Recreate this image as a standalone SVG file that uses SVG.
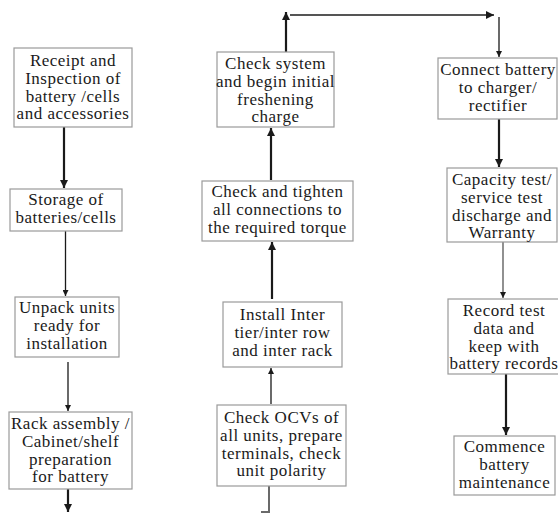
<svg xmlns="http://www.w3.org/2000/svg" width="558" height="513" viewBox="0 0 558 513">
<defs>
<style>
.box rect{fill:#fff;stroke:#9a9a9a;stroke-width:1.2}
.box text{font-family:"Liberation Serif","Times New Roman",serif;font-size:17px;letter-spacing:0.5px;fill:#1a1a1a;text-anchor:middle}
.c{fill:none;stroke:#1a1a1a}
.thick{stroke-width:2.2}
.thin{stroke-width:1.3}
.gray{stroke:#555}
</style>
<marker id="ah" viewBox="0 0 10 10" refX="10" refY="5" markerWidth="8" markerHeight="8" markerUnits="userSpaceOnUse" orient="auto">
<path d="M0,0 L10,5 L0,10 Z" fill="#1a1a1a"/>
</marker>
<marker id="ahs" viewBox="0 0 10 10" refX="10" refY="5" markerWidth="6" markerHeight="6" markerUnits="userSpaceOnUse" orient="auto">
<path d="M0,0 L10,5 L0,10 Z" fill="#1a1a1a"/>
</marker>
</defs>
<rect width="558" height="513" fill="#fff"/>
<g id="connectors">
<line class="c thick" x1="64" y1="127" x2="64" y2="188" marker-end="url(#ah)"/>
<line class="c thin" x1="65.5" y1="231" x2="65.5" y2="296" marker-end="url(#ahs)"/>
<line class="c thin" x1="68" y1="362" x2="68" y2="411" marker-end="url(#ahs)"/>
<line class="c thick" x1="68" y1="489" x2="68" y2="512" marker-end="url(#ah)"/>
<line class="c thin" x1="269" y1="513" x2="269" y2="476" marker-end="url(#ahs)"/>
<line class="c thin" x1="261" y1="512" x2="268" y2="512"/>
<line class="c thin" x1="271" y1="404" x2="271" y2="368" marker-end="url(#ahs)"/>
<line class="c thick" x1="272" y1="299" x2="272" y2="242" marker-end="url(#ah)"/>
<line class="c thick" x1="271" y1="180" x2="271" y2="128" marker-end="url(#ah)"/>
<line class="c thick" x1="286" y1="52" x2="286" y2="12" marker-end="url(#ah)"/>
<line class="c thick gray" x1="290" y1="15" x2="494" y2="15" marker-end="url(#ah)"/>
<line class="c thin" x1="499" y1="17" x2="499" y2="57" marker-end="url(#ahs)"/>
<line class="c thick" x1="499" y1="119" x2="499" y2="167" marker-end="url(#ah)"/>
<line class="c thin gray" x1="503" y1="242" x2="503" y2="298" marker-end="url(#ahs)"/>
<line class="c thick" x1="506" y1="374" x2="506" y2="435" marker-end="url(#ah)"/>
</g>
<g id="n1" class="box"><rect x="14" y="48" width="118" height="79"/>
<text x="73" y="66">Receipt and</text><text x="73" y="83.8">Inspection of</text><text x="73" y="101.6">battery /cells</text><text x="73" y="119.4">and accessories</text></g>
<g id="n2" class="box"><rect x="10" y="189" width="112" height="42"/>
<text x="66" y="205">Storage of</text><text x="66" y="222.8">batteries/cells</text></g>
<g id="n3" class="box"><rect x="15" y="297" width="104" height="60"/>
<text x="67" y="313">Unpack units</text><text x="67" y="330.8">ready for</text><text x="67" y="348.6">installation</text></g>
<g id="n4" class="box"><rect x="9" y="412" width="123" height="77"/>
<text x="70.5" y="429">Rack assembly /</text><text x="70.5" y="446.8">Cabinet/shelf</text><text x="70.5" y="464.6">preparation</text><text x="70.5" y="482.4">for battery</text></g>
<g id="n5" class="box"><rect x="217" y="52" width="117" height="75"/>
<text x="275.5" y="69">Check system</text><text x="275.5" y="86.8">and begin initial</text><text x="275.5" y="104.6">freshening</text><text x="275.5" y="122.4">charge</text></g>
<g id="n6" class="box"><rect x="202" y="181" width="151" height="60"/>
<text x="277.5" y="197">Check and tighten</text><text x="277.5" y="214.8">all connections to</text><text x="277.5" y="232.6">the required torque</text></g>
<g id="n7" class="box"><rect x="223" y="302" width="119" height="65"/>
<text x="282.5" y="320">Install Inter</text><text x="282.5" y="337.8">tier/inter row</text><text x="282.5" y="355.6">and inter rack</text></g>
<g id="n8" class="box"><rect x="217" y="405" width="129" height="81"/>
<text x="281.5" y="423">Check OCVs of</text><text x="281.5" y="440.8">all units, prepare</text><text x="281.5" y="458.6">terminals, check</text><text x="281.5" y="476.4">unit polarity</text></g>
<g id="n9" class="box"><rect x="438" y="58" width="119" height="61"/>
<text x="498" y="75">Connect battery</text><text x="498" y="92.8">to charger/</text><text x="498" y="110.6">rectifier</text></g>
<g id="n10" class="box"><rect x="447" y="168" width="110" height="74"/>
<text x="502" y="185">Capacity test/</text><text x="502" y="202.8">service  test</text><text x="502" y="220.6">discharge and</text><text x="502" y="238.4">Warranty</text></g>
<g id="n11" class="box"><rect x="448" y="299" width="112" height="75"/>
<text x="504" y="316">Record test</text><text x="504" y="333.8">data and</text><text x="504" y="351.6">keep with</text><text x="504" y="369.4">battery records</text></g>
<g id="n12" class="box"><rect x="454" y="436" width="101" height="59"/>
<text x="504.5" y="452">Commence</text><text x="504.5" y="469.8">battery</text><text x="504.5" y="487.6">maintenance</text></g>
</svg>
